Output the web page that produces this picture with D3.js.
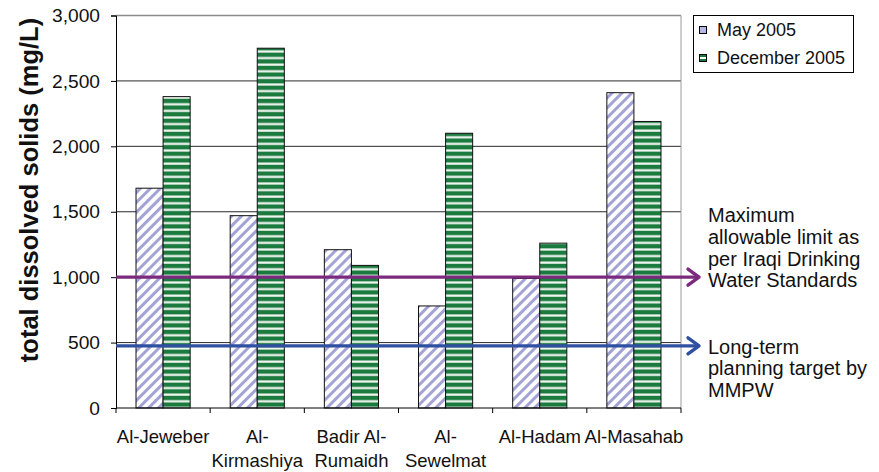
<!DOCTYPE html>
<html>
<head>
<meta charset="utf-8">
<script src="https://cdn.jsdelivr.net/npm/d3@7/dist/d3.min.js"></script>
<style>
  html, body { margin: 0; padding: 0; background: #fff; }
  svg { display: block; font-family: "Liberation Sans", Arial, sans-serif; }
</style>
</head>
<body>
<svg id="chart" width="879" height="472"></svg>
<script>
// ---- data ----
const categories = ["Al-Jeweber", "Al-Kirmashiya", "Badir Al-Rumaidh", "Al-Sewelmat", "Al-Hadam", "Al-Masahab"];
const categoryLines = [["Al-Jeweber"], ["Al-", "Kirmashiya"], ["Badir Al-", "Rumaidh"], ["Al-", "Sewelmat"], ["Al-Hadam"], ["Al-Masahab"]];
const seriesNames = ["May 2005", "December 2005"];
const may2005 = [1680, 1470, 1210, 780, 990, 2410];
const dec2005 = [2380, 2750, 1090, 2100, 1260, 2190];
const yTicks = [0, 500, 1000, 1500, 2000, 2500, 3000];
const refValues = [1000, 475];
const refLabels = [
  ["Maximum", "allowable limit as", "per Iraqi Drinking", "Water Standards"],
  ["Long-term", "planning target by", "MMPW"]
];
const yTitle = "total dissolved solids (mg/L)";

// ---- layout ----
const svg = d3.select("#chart");
const plot = { left: 116, right: 681, top: 15.5, bottom: 408 };

const x = d3.scaleBand().domain(categories).range([plot.left, plot.right])
  .paddingInner(0.425).paddingOuter(0.2125);
const xs = d3.scaleBand().domain(seriesNames).range([0, x.bandwidth()]).padding(0);
const y = d3.scaleLinear().domain([0, 3000]).range([plot.bottom, plot.top]);
const step = x.step();

// ---- patterns ----
const defs = svg.append("defs");
const p1 = defs.append("pattern").attr("id", "diag").attr("patternUnits", "userSpaceOnUse")
  .attr("width", 7).attr("height", 7).attr("patternTransform", "rotate(45)");
p1.append("rect").attr("width", 7).attr("height", 7).attr("fill", "#fff");
p1.append("rect").attr("x", 0).attr("y", 0).attr("width", 3).attr("height", 7).attr("fill", "#a3a3d6");

const p2 = defs.append("pattern").attr("id", "horiz").attr("patternUnits", "userSpaceOnUse")
  .attr("width", 8).attr("height", 6.6);
p2.append("rect").attr("width", 8).attr("height", 6.6).attr("fill", "#fff");
p2.append("rect").attr("y", 0).attr("width", 8).attr("height", 4.2).attr("fill", "#1b7a3e");
p2.append("rect").attr("y", 4.2).attr("width", 8).attr("height", 0.6).attr("fill", "#9cc7a8");
p2.append("rect").attr("y", 6.0).attr("width", 8).attr("height", 0.6).attr("fill", "#9cc7a8");

const fills = ["url(#diag)", "url(#horiz)"];

// ---- gridlines ----
svg.append("g").selectAll("line").data(yTicks.filter(t => t > 0)).join("line")
  .attr("x1", plot.left).attr("x2", plot.right)
  .attr("y1", d => y(d)).attr("y2", d => y(d))
  .attr("stroke", d => d === 3000 ? "#8a8a8a" : "#2a2a2a")
  .attr("stroke-width", d => d === 3000 ? 1.6 : 1);

// right border
svg.append("line").attr("x1", plot.right).attr("x2", plot.right)
  .attr("y1", y(3000)).attr("y2", y(0)).attr("stroke", "#9a9a9a").attr("stroke-width", 1);

// ---- bars ----
const series = [may2005, dec2005];
const gBars = svg.append("g");
series.forEach((vals, si) => {
  gBars.append("g").selectAll("rect").data(vals).join("rect")
    .attr("x", (d, i) => x(categories[i]) + xs(seriesNames[si]))
    .attr("width", xs.bandwidth())
    .attr("y", d => y(d))
    .attr("height", d => y(0) - y(d))
    .attr("fill", fills[si])
    .attr("stroke", "#111").attr("stroke-width", 1);
});

// ---- y axis ----
const yAxis = d3.axisLeft(y).tickValues(yTicks).tickSize(5).tickPadding(11)
  .tickFormat(d3.format(","));
const gy = svg.append("g").attr("transform", `translate(${plot.left},0)`).call(yAxis);
gy.select(".domain").attr("stroke", "#000");
gy.selectAll(".tick line").attr("stroke", "#000");
gy.selectAll(".tick text").attr("font-size", 19.2).attr("fill", "#111")
  .attr("font-family", "'Liberation Sans', Arial, sans-serif");

// ---- x axis ----
svg.append("line").attr("x1", plot.left).attr("x2", plot.right)
  .attr("y1", y(0)).attr("y2", y(0)).attr("stroke", "#000");
svg.append("g").selectAll("line").data(d3.range(categories.length + 1)).join("line")
  .attr("x1", i => plot.left + i * step).attr("x2", i => plot.left + i * step)
  .attr("y1", y(0)).attr("y2", y(0) + 5).attr("stroke", "#000");

const gx = svg.append("g");
categories.forEach((c, i) => {
  const t = gx.append("text").attr("text-anchor", "middle")
    .attr("font-size", 18.5).attr("fill", "#111")
    .attr("x", x(c) + x.bandwidth() / 2).attr("y", 443);
  categoryLines[i].forEach((ln, j) => {
    t.append("tspan").attr("x", x(c) + x.bandwidth() / 2).attr("dy", j === 0 ? 0 : 24).text(ln);
  });
});

// ---- y title ----
svg.append("text")
  .attr("transform", `translate(38,190) rotate(-90)`)
  .attr("text-anchor", "middle").attr("font-weight", "bold").attr("font-size", 25.5)
  .attr("fill", "#111").text(yTitle);

// ---- reference arrows ----
const refColors = ["#7b2a7e", "#2f4fa0"];
const arrowEnd = 699;
refValues.forEach((v, k) => {
  const yy = y(v);
  const g = svg.append("g").attr("stroke", refColors[k]).attr("stroke-width", 3.4)
    .attr("fill", "none").attr("stroke-linecap", "round").attr("stroke-linejoin", "round");
  g.append("line").attr("x1", plot.left).attr("x2", arrowEnd - 1).attr("y1", yy).attr("y2", yy)
    .attr("stroke-linecap", "butt");
  g.append("path").attr("d", `M${arrowEnd - 11},${yy - 8} L${arrowEnd},${yy} L${arrowEnd - 11},${yy + 8}`);
});

// ---- annotation text ----
const annBase = [222, 353.5];
refLabels.forEach((lines, k) => {
  const t = svg.append("text").attr("font-size", 20).attr("fill", "#111")
    .attr("x", 708).attr("y", annBase[k]);
  lines.forEach((ln, j) => t.append("tspan").attr("x", 708).attr("dy", j === 0 ? 0 : 21.8).text(ln));
});

// ---- legend ----
const lg = svg.append("g");
lg.append("rect").attr("x", 693.5).attr("y", 15.5).attr("width", 160).attr("height", 57)
  .attr("fill", "#fff").attr("stroke", "#000").attr("stroke-width", 1);
seriesNames.forEach((s, i) => {
  const yy = 30 + i * 28;
  lg.append("rect").attr("x", 699.5).attr("y", yy - 3.5).attr("width", 7).attr("height", 7)
    .attr("fill", i === 0 ? "#b8b8e6" : "#1b7a3e").attr("stroke", "#000").attr("stroke-width", 1);
  if (i === 1) {
    lg.append("rect").attr("x", 700).attr("y", yy - 1).attr("width", 6).attr("height", 2).attr("fill", "#fff");
  }
  lg.append("text").attr("x", 717).attr("y", yy + 6).attr("font-size", 18).attr("fill", "#111").text(s);
});
</script>
</body>
</html>
